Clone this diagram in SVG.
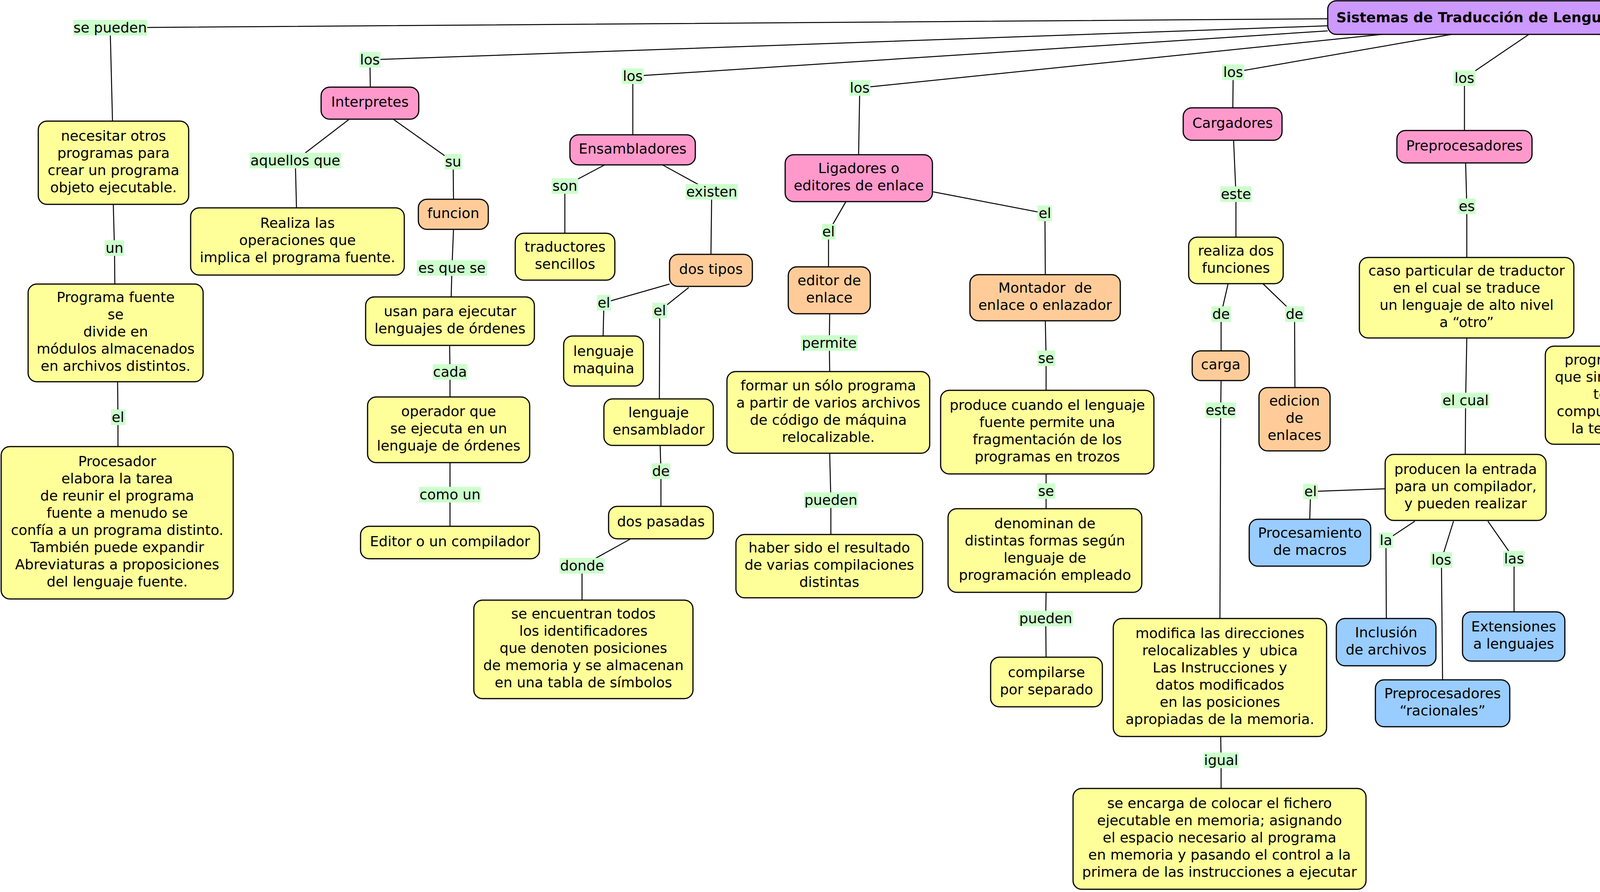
<svg xmlns="http://www.w3.org/2000/svg" width="6998" height="2283" viewBox="0 0 6998 2283">
<style>
.c{fill:none;stroke:#000;stroke-width:2.5}
.b{stroke:#000;stroke-width:3}
.y{fill:#FFFF99}.p{fill:#FF99CC}.o{fill:#FFCC99}.u{fill:#99CCFF}.g{fill:#CCCCCC}.v{fill:#CC99FF}
.lb{fill:#CCFFCC}
text{font-family:"DejaVu Sans",Verdana,sans-serif;font-size:36px;fill:#000;text-anchor:middle;white-space:pre}
.tt{font-weight:bold}
</style>
<rect width="6998" height="2283" fill="#fff"/>
<g id="connectors">
<path class="c" d="M3399 48L282 71L288 310"/>
<path class="c" d="M290 523L293 635L294 727"/>
<path class="c" d="M301 977L302 1068L302 1143"/>
<path class="c" d="M3399 66L947 153L948 223"/>
<path class="c" d="M893 306L756 411L759 532"/>
<path class="c" d="M1008 306L1160 414L1161 510"/>
<path class="c" d="M1161 587L1157 686L1155 760"/>
<path class="c" d="M1151 884L1152 952L1152 1016"/>
<path class="c" d="M1152 1184L1152 1266L1152 1347"/>
<path class="c" d="M3399 79L1620 195L1620 345"/>
<path class="c" d="M1548 422L1446 476L1446 597"/>
<path class="c" d="M1696 422L1822 491L1820 651"/>
<path class="c" d="M1714 727L1546 775L1544 860"/>
<path class="c" d="M1763 736L1689 795L1688 1021"/>
<path class="c" d="M1690 1141L1692 1206L1692 1296"/>
<path class="c" d="M1613 1380L1490 1448L1490 1536"/>
<path class="c" d="M3538 88L2201 225L2198 396"/>
<path class="c" d="M2165 517L2121 593L2121 683"/>
<path class="c" d="M2124 803L2123 878L2124 951"/>
<path class="c" d="M2124 1160L2127 1280L2127 1368"/>
<path class="c" d="M2389 491L2675 546L2676 703"/>
<path class="c" d="M2676 821L2678 917L2678 999"/>
<path class="c" d="M2678 1213L2678 1257L2678 1302"/>
<path class="c" d="M2678 1516L2677 1583L2678 1682"/>
<path class="c" d="M3716 88L3157 185L3156 276"/>
<path class="c" d="M3158 359L3164 497L3164 607"/>
<path class="c" d="M3144 726L3126 804L3126 898"/>
<path class="c" d="M3126 974L3125 1050L3123 1583"/>
<path class="c" d="M3233 726L3314 804L3315 992"/>
<path class="c" d="M3125 1885L3126 1946L3126 2018"/>
<path class="c" d="M3914 88L3749 200L3749 334"/>
<path class="c" d="M3752 417L3755 528L3755 659"/>
<path class="c" d="M3755 865L3752 1025L3751 1163"/>
<path class="c" d="M3546 1251L3355 1258L3353 1329"/>
<path class="c" d="M3622 1334L3548 1383L3549 1583"/>
<path class="c" d="M3721 1334L3690 1433L3693 1740"/>
<path class="c" d="M3809 1334L3876 1430L3876 1566"/>
<path class="c" d="M4095 88L4346 190L4347 320"/>
<path class="c" d="M4316 400L4208 532L4205 886"/>
<path class="c" d="M4382 400L4498 538L4499 645"/>
<path class="c" d="M4499 722L4499 1020L4499 1159"/>
<path class="c" d="M4502 1330L4500 1413L4502 1492"/>
<path class="c" d="M4261 88L4862 187L4863 321"/>
<path class="c" d="M4863 403L4862 496L4862 604"/>
<path class="c" d="M4362 88L5262 196L5270 301"/>
<path class="c" d="M5276 429L5276 635L5276 849"/>
<path class="c" d="M5276 975L5276 1064L5241 1139"/>
<path class="c" d="M4562 77L5885 151L5885 249"/>
<path class="c" d="M5885 326L5885 412L5885 521"/>
<path class="c" d="M5885 737L5885 821L5885 917"/>
<path class="c" d="M4562 53L6612 84L6611 183"/>
<path class="c" d="M6490 302L6352 372L6352 469"/>
<path class="c" d="M6615 302L6617 408L6617 631"/>
<path class="c" d="M6617 713L6617 812L6617 896"/>
</g>
<g id="linking-phrases">
<rect class="lb" x="187" y="51" width="190" height="40"/><text x="282" y="83">se pueden</text>
<rect class="lb" x="920" y="133" width="54" height="40"/><text x="947" y="165">los</text>
<rect class="lb" x="639" y="391" width="234" height="40"/><text x="756" y="423">aquellos que</text>
<rect class="lb" x="1138" y="394" width="44" height="40"/><text x="1160" y="426">su</text>
<rect class="lb" x="1067" y="666" width="180" height="40"/><text x="1157" y="698">es que se</text>
<rect class="lb" x="1592" y="175" width="56" height="40"/><text x="1620" y="207">los</text>
<rect class="lb" x="1412" y="456" width="68" height="40"/><text x="1446" y="488">son</text>
<rect class="lb" x="1755" y="471" width="134" height="40"/><text x="1822" y="503">existen</text>
<rect class="lb" x="1528" y="755" width="36" height="40"/><text x="1546" y="787">el</text>
<rect class="lb" x="1670" y="775" width="38" height="40"/><text x="1689" y="807">el</text>
<rect class="lb" x="1668" y="1186" width="48" height="40"/><text x="1692" y="1218">de</text>
<rect class="lb" x="1432" y="1428" width="116" height="40"/><text x="1490" y="1460">donde</text>
<rect class="lb" x="268" y="615" width="50" height="40"/><text x="293" y="647">un</text>
<rect class="lb" x="284" y="1048" width="37" height="40"/><text x="302" y="1080">el</text>
<rect class="lb" x="1108" y="932" width="88" height="40"/><text x="1152" y="964">cada</text>
<rect class="lb" x="1073" y="1246" width="158" height="40"/><text x="1152" y="1278">como un</text>
<rect class="lb" x="2174" y="205" width="54" height="40"/><text x="2201" y="237">los</text>
<rect class="lb" x="2104" y="573" width="35" height="40"/><text x="2121" y="605">el</text>
<rect class="lb" x="2050" y="858" width="146" height="40"/><text x="2123" y="890">permite</text>
<rect class="lb" x="2058" y="1260" width="138" height="40"/><text x="2127" y="1292">pueden</text>
<rect class="lb" x="2656" y="526" width="37" height="40"/><text x="2675" y="558">el</text>
<rect class="lb" x="2656" y="897" width="45" height="40"/><text x="2678" y="929">se</text>
<rect class="lb" x="2656" y="1237" width="45" height="40"/><text x="2678" y="1269">se</text>
<rect class="lb" x="2607" y="1563" width="140" height="40"/><text x="2677" y="1595">pueden</text>
<rect class="lb" x="3129" y="165" width="56" height="40"/><text x="3157" y="197">los</text>
<rect class="lb" x="3124" y="477" width="80" height="40"/><text x="3164" y="509">este</text>
<rect class="lb" x="3101" y="784" width="50" height="40"/><text x="3126" y="816">de</text>
<rect class="lb" x="3290" y="784" width="49" height="40"/><text x="3314" y="816">de</text>
<rect class="lb" x="3086" y="1030" width="78" height="40"/><text x="3125" y="1062">este</text>
<rect class="lb" x="3081" y="1926" width="90" height="40"/><text x="3126" y="1958">igual</text>
<rect class="lb" x="3721" y="180" width="56" height="40"/><text x="3749" y="212">los</text>
<rect class="lb" x="3733" y="508" width="44" height="40"/><text x="3755" y="540">es</text>
<rect class="lb" x="3690" y="1005" width="123" height="40"/><text x="3752" y="1037">el cual</text>
<rect class="lb" x="3336" y="1238" width="38" height="40"/><text x="3355" y="1270">el</text>
<rect class="lb" x="3530" y="1363" width="36" height="40"/><text x="3548" y="1395">la</text>
<rect class="lb" x="3662" y="1413" width="56" height="40"/><text x="3690" y="1445">los</text>
<rect class="lb" x="3848" y="1410" width="55" height="40"/><text x="3876" y="1442">las</text>
<rect class="lb" x="4318" y="170" width="56" height="40"/><text x="4346" y="202">los</text>
<rect class="lb" x="4186" y="512" width="44" height="40"/><text x="4208" y="544">es</text>
<rect class="lb" x="4477" y="518" width="42" height="40"/><text x="4498" y="550">su</text>
<rect class="lb" x="4479" y="1000" width="40" height="40"/><text x="4499" y="1032">es</text>
<rect class="lb" x="4442" y="1393" width="117" height="40"/><text x="4500" y="1425">exiten</text>
<rect class="lb" x="4835" y="167" width="55" height="40"/><text x="4862" y="199">los</text>
<rect class="lb" x="4828" y="476" width="68" height="40"/><text x="4862" y="508">son</text>
<rect class="lb" x="5235" y="176" width="54" height="40"/><text x="5262" y="208">los</text>
<rect class="lb" x="5207" y="615" width="137" height="40"/><text x="5276" y="647">pueden</text>
<rect class="lb" x="5182" y="1044" width="188" height="40"/><text x="5276" y="1076">cuando se</text>
<rect class="lb" x="5857" y="131" width="56" height="40"/><text x="5885" y="163">los</text>
<rect class="lb" x="5845" y="392" width="79" height="40"/><text x="5885" y="424">este</text>
<rect class="lb" x="5792" y="801" width="185" height="40"/><text x="5885" y="833">puede ser</text>
<rect class="lb" x="6584" y="64" width="56" height="40"/><text x="6612" y="96">los</text>
<rect class="lb" x="6303" y="352" width="99" height="40"/><text x="6352" y="384">estos</text>
<rect class="lb" x="6596" y="388" width="43" height="40"/><text x="6617" y="420">su</text>
<rect class="lb" x="6596" y="792" width="43" height="40"/><text x="6617" y="824">es</text>
</g>
<g id="n-title"><rect class="b v" x="3399" y="2" width="1163" height="86" rx="22"/><text class="tt" x="3980.5" y="57">Sistemas de Traducción de Lenguajes de Programación</text></g>
<g id="n-necesitar"><rect class="b y" x="98" y="310" width="385" height="213" rx="22"/><text><tspan x="290.5" y="360">necesitar otros</tspan><tspan x="290.5" y="404">programas para</tspan><tspan x="290.5" y="448">crear un programa</tspan><tspan x="290.5" y="492">objeto ejecutable.</tspan></text></g>
<g id="n-programa-fuente"><rect class="b y" x="72" y="727" width="448" height="250" rx="22"/><text><tspan x="296" y="773">Programa fuente</tspan><tspan x="296" y="817">se</tspan><tspan x="296" y="861">divide en</tspan><tspan x="296" y="905">módulos almacenados</tspan><tspan x="296" y="949">en archivos distintos.</tspan></text></g>
<g id="n-procesador"><rect class="b y" x="3" y="1143" width="594" height="390" rx="22"/><text><tspan x="300" y="1193">Procesador</tspan><tspan x="300" y="1237">elabora la tarea</tspan><tspan x="300" y="1281">de reunir el programa</tspan><tspan x="300" y="1325">fuente a menudo se</tspan><tspan x="300" y="1369">confía a un programa distinto.</tspan><tspan x="300" y="1413">También puede expandir</tspan><tspan x="300" y="1457">Abreviaturas a proposiciones</tspan><tspan x="300" y="1501">del lenguaje fuente.</tspan></text></g>
<g id="n-interpretes"><rect class="b p" x="822" y="223" width="250" height="82" rx="22"/><text x="947" y="273">Interpretes</text></g>
<g id="n-realiza"><rect class="b y" x="488" y="532" width="547" height="172" rx="22"/><text><tspan x="761.5" y="583">Realiza las</tspan><tspan x="761.5" y="627">operaciones que</tspan><tspan x="761.5" y="671">implica el programa fuente.</tspan></text></g>
<g id="n-funcion-i"><rect class="b o" x="1071" y="510" width="179" height="77" rx="22"/><text x="1160.5" y="558">funcion</text></g>
<g id="n-usan"><rect class="b y" x="936" y="760" width="432" height="124" rx="22"/><text><tspan x="1152" y="809">usan para ejecutar</tspan><tspan x="1152" y="853">lenguajes de órdenes</tspan></text></g>
<g id="n-operador"><rect class="b y" x="941" y="1016" width="415" height="168" rx="22"/><text><tspan x="1148.5" y="1065">operador que</tspan><tspan x="1148.5" y="1109">se ejecuta en un</tspan><tspan x="1148.5" y="1153">lenguaje de órdenes</tspan></text></g>
<g id="n-editor-compilador"><rect class="b y" x="923" y="1347" width="458" height="83" rx="22"/><text x="1152" y="1398">Editor o un compilador</text></g>
<g id="n-ensambladores"><rect class="b p" x="1459" y="345" width="321" height="77" rx="22"/><text x="1619.5" y="393">Ensambladores</text></g>
<g id="n-traductores"><rect class="b y" x="1319" y="597" width="255" height="120" rx="22"/><text><tspan x="1446.5" y="644">traductores</tspan><tspan x="1446.5" y="688">sencillos</tspan></text></g>
<g id="n-dos-tipos"><rect class="b o" x="1714" y="651" width="212" height="82" rx="22"/><text x="1820" y="701">dos tipos</text></g>
<g id="n-lenguaje-maquina"><rect class="b y" x="1443" y="860" width="204" height="128" rx="22"/><text><tspan x="1545" y="911">lenguaje</tspan><tspan x="1545" y="955">maquina</tspan></text></g>
<g id="n-lenguaje-ensamblador"><rect class="b y" x="1546" y="1021" width="280" height="119" rx="22"/><text><tspan x="1686" y="1068">lenguaje</tspan><tspan x="1686" y="1112">ensamblador</tspan></text></g>
<g id="n-dos-pasadas"><rect class="b y" x="1558" y="1296" width="268" height="83" rx="22"/><text x="1692" y="1347">dos pasadas</text></g>
<g id="n-se-encuentran"><rect class="b y" x="1213" y="1536" width="561" height="252" rx="22"/><text><tspan x="1493.5" y="1583">se encuentran todos</tspan><tspan x="1493.5" y="1627">los identificadores</tspan><tspan x="1493.5" y="1671">que denoten posiciones</tspan><tspan x="1493.5" y="1715">de memoria y se almacenan</tspan><tspan x="1493.5" y="1759">en una tabla de símbolos</tspan></text></g>
<g id="n-ligadores"><rect class="b p" x="2010" y="396" width="377" height="120" rx="22"/><text><tspan x="2198.5" y="443">Ligadores o</tspan><tspan x="2198.5" y="487">editores de enlace</tspan></text></g>
<g id="n-editor-enlace"><rect class="b o" x="2018" y="683" width="210" height="120" rx="22"/><text><tspan x="2123" y="730">editor de</tspan><tspan x="2123" y="774">enlace</tspan></text></g>
<g id="n-formar"><rect class="b y" x="1861" y="951" width="519" height="209" rx="22"/><text><tspan x="2120.5" y="998.5">formar un sólo programa</tspan><tspan x="2120.5" y="1042.5">a partir de varios archivos</tspan><tspan x="2120.5" y="1086.5">de código de máquina</tspan><tspan x="2120.5" y="1130.5">relocalizable.</tspan></text></g>
<g id="n-haber-sido"><rect class="b y" x="1884" y="1368" width="478" height="162" rx="22"/><text><tspan x="2123" y="1414">haber sido el resultado</tspan><tspan x="2123" y="1458">de varias compilaciones</tspan><tspan x="2123" y="1502">distintas</tspan></text></g>
<g id="n-montador"><rect class="b o" x="2483" y="703" width="385" height="118" rx="22"/><text><tspan x="2675.5" y="749">Montador  de</tspan><tspan x="2675.5" y="793">enlace o enlazador</tspan></text></g>
<g id="n-produce"><rect class="b y" x="2408" y="999" width="546" height="214" rx="22"/><text><tspan x="2681" y="1049">produce cuando el lenguaje</tspan><tspan x="2681" y="1093">fuente permite una</tspan><tspan x="2681" y="1137">fragmentación de los</tspan><tspan x="2681" y="1181">programas en trozos</tspan></text></g>
<g id="n-denominan"><rect class="b y" x="2427" y="1302" width="496" height="214" rx="22"/><text><tspan x="2675" y="1352">denominan de</tspan><tspan x="2675" y="1396">distintas formas según</tspan><tspan x="2675" y="1440">lenguaje de</tspan><tspan x="2675" y="1484">programación empleado</tspan></text></g>
<g id="n-compilarse"><rect class="b y" x="2536" y="1682" width="286" height="127" rx="22"/><text><tspan x="2679" y="1732.5">compilarse</tspan><tspan x="2679" y="1776.5">por separado</tspan></text></g>
<g id="n-cargadores"><rect class="b p" x="3029" y="276" width="253" height="83" rx="22"/><text x="3155.5" y="327">Cargadores</text></g>
<g id="n-realiza-dos"><rect class="b y" x="3043" y="607" width="242" height="119" rx="22"/><text><tspan x="3164" y="653.5">realiza dos</tspan><tspan x="3164" y="697.5">funciones</tspan></text></g>
<g id="n-carga"><rect class="b o" x="3052" y="898" width="146" height="76" rx="22"/><text x="3125" y="945">carga</text></g>
<g id="n-edicion"><rect class="b o" x="3223" y="992" width="182" height="162" rx="22"/><text><tspan x="3314" y="1038">edicion</tspan><tspan x="3314" y="1082">de</tspan><tspan x="3314" y="1126">enlaces</tspan></text></g>
<g id="n-modifica"><rect class="b y" x="2850" y="1583" width="546" height="302" rx="22"/><text><tspan x="3123" y="1633">modifica las direcciones</tspan><tspan x="3123" y="1677">relocalizables y  ubica</tspan><tspan x="3123" y="1721">Las Instrucciones y</tspan><tspan x="3123" y="1765">datos modificados</tspan><tspan x="3123" y="1809">en las posiciones</tspan><tspan x="3123" y="1853">apropiadas de la memoria.</tspan></text></g>
<g id="n-se-encarga"><rect class="b y" x="2747" y="2018" width="750" height="258" rx="22"/><text><tspan x="3122" y="2068">se encarga de colocar el fichero</tspan><tspan x="3122" y="2112">ejecutable en memoria; asignando</tspan><tspan x="3122" y="2156">el espacio necesario al programa</tspan><tspan x="3122" y="2200">en memoria y pasando el control a la</tspan><tspan x="3122" y="2244">primera de las instrucciones a ejecutar</tspan></text></g>
<g id="n-preprocesadores"><rect class="b p" x="3576" y="334" width="346" height="83" rx="22"/><text x="3749" y="385">Preprocesadores</text></g>
<g id="n-caso"><rect class="b y" x="3480" y="659" width="549" height="206" rx="22"/><text><tspan x="3754.5" y="705">caso particular de traductor</tspan><tspan x="3754.5" y="749">en el cual se traduce</tspan><tspan x="3754.5" y="793">un lenguaje de alto nivel</tspan><tspan x="3754.5" y="837">a “otro”</tspan></text></g>
<g id="n-producen"><rect class="b y" x="3546" y="1163" width="412" height="169" rx="22"/><text><tspan x="3752" y="1212.5">producen la entrada</tspan><tspan x="3752" y="1256.5">para un compilador,</tspan><tspan x="3752" y="1300.5">y pueden realizar</tspan></text></g>
<g id="n-macros"><rect class="b u" x="3198" y="1329" width="311" height="120" rx="22"/><text><tspan x="3353.5" y="1376">Procesamiento</tspan><tspan x="3353.5" y="1420">de macros</tspan></text></g>
<g id="n-inclusion"><rect class="b u" x="3421" y="1583" width="255" height="121" rx="22"/><text><tspan x="3548.5" y="1630.5">Inclusión</tspan><tspan x="3548.5" y="1674.5">de archivos</tspan></text></g>
<g id="n-racionales"><rect class="b u" x="3521" y="1740" width="344" height="120" rx="22"/><text><tspan x="3693" y="1787">Preprocesadores</tspan><tspan x="3693" y="1831">“racionales”</tspan></text></g>
<g id="n-extensiones"><rect class="b u" x="3744" y="1566" width="262" height="126" rx="22"/><text><tspan x="3875" y="1616">Extensiones</tspan><tspan x="3875" y="1660">a lenguajes</tspan></text></g>
<g id="n-editores"><rect class="b p" x="4250" y="320" width="192" height="78" rx="22"/><text x="4346" y="368">Editores</text></g>
<g id="n-programa-sistema"><rect class="b y" x="3956" y="886" width="493" height="251" rx="22"/><text><tspan x="4202.5" y="932.5">programa del sistema</tspan><tspan x="4202.5" y="976.5">que sirve para introducir</tspan><tspan x="4202.5" y="1020.5">textos en una</tspan><tspan x="4202.5" y="1064.5">computadora  mediante</tspan><tspan x="4202.5" y="1108.5">la terminal de video</tspan></text></g>
<g id="n-funcion-e"><rect class="b o" x="4410" y="645" width="178" height="77" rx="22"/><text x="4499" y="693">funcion</text></g>
<g id="n-servir"><rect class="b y" x="4241" y="1159" width="517" height="171" rx="22"/><text><tspan x="4499.5" y="1209.5">servir de canal de</tspan><tspan x="4499.5" y="1253.5">entrada de textos,</tspan><tspan x="4499.5" y="1297.5">datos y programas fuente</tspan></text></g>
<g id="n-dos-frentes"><rect class="b y" x="4355" y="1492" width="300" height="165" rx="22"/><text><tspan x="4505" y="1539.5">dos frentes</tspan><tspan x="4505" y="1583.5">comunicación</tspan><tspan x="4505" y="1627.5">con el usuario</tspan></text></g>
<g id="n-autor"><rect class="b g" x="4188" y="1962" width="845" height="125" rx="22"/><text><tspan x="4610.5" y="2011.5">Jessica Ceron Perez</tspan><tspan x="4610.5" y="2055.5">6to semestre Grupo 3</tspan></text></g>
<g id="n-depuradores"><rect class="b p" x="4724" y="321" width="275" height="82" rx="22"/><text x="4861.5" y="371">Depuradores</text></g>
<g id="n-herramientas"><rect class="b y" x="4609" y="604" width="505" height="212" rx="22"/><text><tspan x="4861.5" y="653">herramientas que</tspan><tspan x="4861.5" y="697">permiten encontrar</tspan><tspan x="4861.5" y="741">y corregir los errores</tspan><tspan x="4861.5" y="785">de los programas (bugs).</tspan></text></g>
<g id="n-administradores"><rect class="b p" x="5107" y="301" width="340" height="128" rx="22"/><text><tspan x="5277" y="352">Administradores</tspan><tspan x="5277" y="396">de proyectos</tspan></text></g>
<g id="n-escribirse"><rect class="b y" x="5007" y="849" width="535" height="126" rx="22"/><text><tspan x="5274.5" y="899">escribirse en una forma</tspan><tspan x="5274.5" y="943">independiente del lenguaje</tspan></text></g>
<g id="n-integra"><rect class="b y" x="4795" y="1139" width="726" height="301" rx="22"/><text><tspan x="5158" y="1188.5">integra junto con</tspan><tspan x="5158" y="1232.5">un compilador puede mantener</tspan><tspan x="5158" y="1276.5">información acerca del compilador</tspan><tspan x="5158" y="1320.5">específico y las operaciones de ligado</tspan><tspan x="5158" y="1364.5">necesarias para construir un</tspan><tspan x="5158" y="1408.5">programa ejecutable completo.</tspan></text></g>
<g id="n-perfiladores"><rect class="b p" x="5755" y="249" width="259" height="77" rx="22"/><text x="5884.5" y="297">Perfiladores</text></g>
<g id="n-recolecta"><rect class="b y" x="5636" y="521" width="498" height="216" rx="22"/><text><tspan x="5885" y="572">recolecta estadísticas</tspan><tspan x="5885" y="616">sobre el comportamiento</tspan><tspan x="5885" y="660">de un programa objeto</tspan><tspan x="5885" y="704">durante la ejecución</tspan></text></g>
<g id="n-de-interes"><rect class="b y" x="5566" y="917" width="645" height="343" rx="22"/><text><tspan x="5888.5" y="965.5">De interés</tspan><tspan x="5888.5" y="1009.5">para el programador</tspan><tspan x="5888.5" y="1053.5">son el número de veces</tspan><tspan x="5888.5" y="1097.5">que se llama cada procedimiento</tspan><tspan x="5888.5" y="1141.5">y el porcentaje de tiempo de</tspan><tspan x="5888.5" y="1185.5">ejecución que se ocupa en</tspan><tspan x="5888.5" y="1229.5">cada uno de ellos.</tspan></text></g>
<g id="n-compresor"><rect class="b p" x="6461" y="183" width="300" height="119" rx="22"/><text><tspan x="6611" y="229.5">Compresor de</tspan><tspan x="6611" y="273.5">archivos</tspan></text></g>
<g id="n-reducen"><rect class="b y" x="6160" y="469" width="387" height="129" rx="22"/><text><tspan x="6353.5" y="520.5">reducen el tamaño</tspan><tspan x="6353.5" y="564.5">de los ejecutables</tspan></text></g>
<g id="n-objetivo"><rect class="b o" x="6521" y="631" width="193" height="82" rx="22"/><text x="6617.5" y="681">objetivo</text></g>
<g id="n-buscar"><rect class="b y" x="6244" y="896" width="747" height="258" rx="22"/><text><tspan x="6617.5" y="946">buscar secuencias de datos repetitivas</tspan><tspan x="6617.5" y="990">dentro del archivo original y</tspan><tspan x="6617.5" y="1034">eliminarlas, de tal forma que</tspan><tspan x="6617.5" y="1078">al eliminar datos repetitivos</tspan><tspan x="6617.5" y="1122">no perdamos información importante.</tspan></text></g>
</svg>
